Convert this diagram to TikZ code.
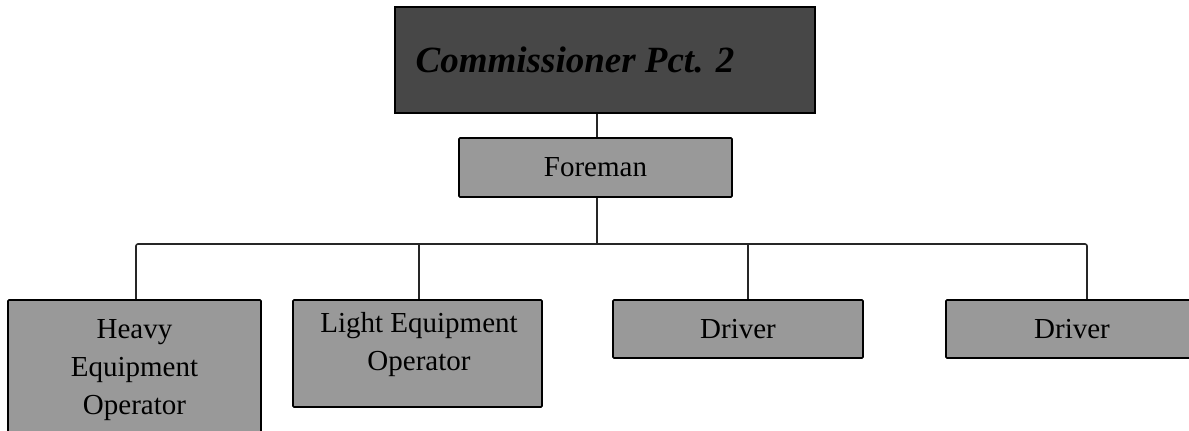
\documentclass[tikz,border=0pt]{standalone}
\usepackage{fontspec}
\setmainfont{Liberation Serif}
\begin{document}
\begin{tikzpicture}[x=1pt,y=-1pt,
  orgbox/.style={draw=black, line width=1.6pt, fill=black!40, rectangle, inner sep=0pt, rounded corners=1pt},
  topbox/.style={draw=black, line width=1.6pt, fill=black!72, rectangle, inner sep=0pt},
  boxtext/.style={align=center, inner sep=0pt, font=\fontsize{29}{38}\selectfont, text=black},
  link/.style={draw=black!85, line width=1.6pt}
]
\useasboundingbox (0,0) rectangle (1189,431);
% boxes
\node[topbox, minimum width=420pt, minimum height=106pt] (comm) at (605,60) {};
\node[inner sep=0pt, font=\fontsize{37}{44}\selectfont\bfseries\itshape, text=black] (commtext) at (575,60) {Commissioner Pct. 2};
\node[orgbox, minimum width=273pt, minimum height=59pt, font=\fontsize{29}{38}\selectfont] (fore) at (595.5,167.5) {Foreman};
\node[orgbox, minimum width=253pt, minimum height=140pt] (heavy) at (134.5,370) {};
\node[boxtext] (heavytext) at (134.5,370) {Heavy\\Equipment\\Operator};
\node[orgbox, minimum width=249pt, minimum height=107pt] (light) at (417.5,353.5) {};
\node[boxtext] (lighttext) at (419,345) {Light Equipment\\Operator};
\node[orgbox, minimum width=250pt, minimum height=58pt] (dri1) at (738,329) {};
\node[boxtext] (dri1text) at (738,329) {Driver};
\node[orgbox, minimum width=252pt, minimum height=58pt] (dri2) at (1072,329) {};
\node[boxtext] (dri2text) at (1072,329) {Driver};
% junctions
\coordinate (t) at (597,244);
\coordinate (j1) at (136,244);
\coordinate (j2) at (419,244);
\coordinate (j3) at (748,244);
\coordinate (j4) at (1087,244);
% connectors
\draw[link] (t |- comm.south) -- (t |- fore.north);
\draw[link] (t |- fore.south) -- (t);
\draw[link, rounded corners=2pt] (j1 |- heavy.north) -- (j1) -- (j4) -- (j4 |- dri2.north);
\draw[link] (j2) -- (j2 |- light.north);
\draw[link] (j3) -- (j3 |- dri1.north);
\end{tikzpicture}
\end{document}
